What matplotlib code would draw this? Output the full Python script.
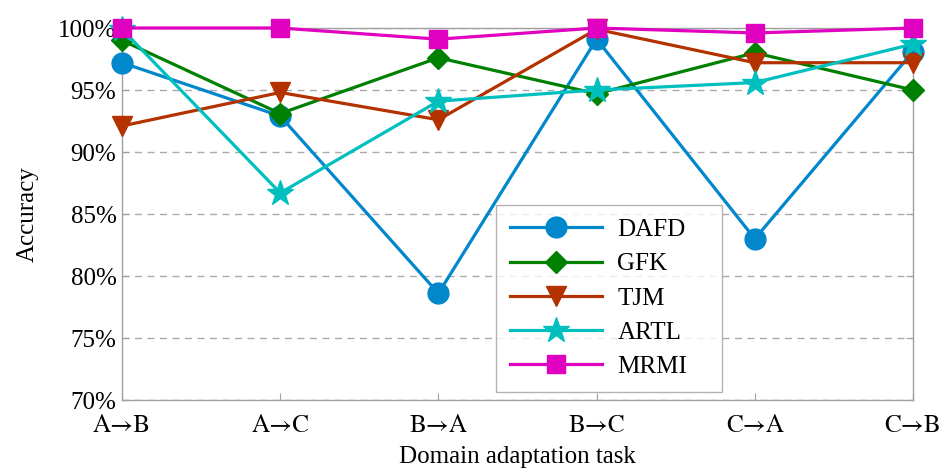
import matplotlib
matplotlib.use("Agg")
import matplotlib.pyplot as plt
from matplotlib.ticker import FuncFormatter

tasks = ["A→B", "A→C", "B→A", "B→C", "C→A", "C→B"]
dafd = [97.2, 92.9, 78.6, 99.1, 83.0, 98.1]
gfk = [99.0, 93.1, 97.6, 94.7, 98.0, 95.0]
tjm = [92.1, 94.8, 92.6, 99.9, 97.2, 97.2]
artl = [99.9, 86.7, 94.1, 95.0, 95.6, 98.7]
mrmi = [100.0, 100.0, 99.1, 100.0, 99.6, 100.0]
yticks = [70, 75, 80, 85, 90, 95, 100]

plt.rcParams['font.family'] = ['Liberation Serif', 'DejaVu Serif']

fig = plt.figure(figsize=(9.51, 4.69), dpi=100)
ax = fig.add_axes([122/951, 1-400/469, 791/951, 372/469])

x = list(range(len(tasks)))
series = [
    ("DAFD", dafd, "#0087cc", "o", 15),
    ("GFK", gfk, "#008000", "D", 11),
    ("TJM", tjm, "#b33200", "v", 15),
    ("ARTL", artl, "#00bfbf", "*", 19),
    ("MRMI", mrmi, "#e000c0", "s", 13),
]
for name, vals, col, mk, ms in series:
    ax.plot(x, vals, color=col, lw=2.3, marker=mk, markersize=ms,
            markeredgecolor=col, label=name, clip_on=False, zorder=3)

ax.set_xlim(0, 5)
ax.set_ylim(70, 100)
ax.set_xticks(x)
ax.set_xticklabels(tasks, family=['STIXGeneral', 'Liberation Serif'])
ax.set_yticks(yticks)
ax.yaxis.set_major_formatter(FuncFormatter(lambda v, p: f"{int(v)}%"))
ax.grid(axis='y', color='#aaaaaa', linestyle=(0, (5, 4)), lw=1.0)
for s in ax.spines.values():
    s.set_color('#a0a0a0')
    s.set_linewidth(1.0)
ax.tick_params(direction='in', length=5, color='#a0a0a0', labelsize=18,
               top=False, right=True)
ax.tick_params(axis='y', pad=4)
ax.tick_params(axis='x', pad=10)
ax.set_xlabel("Domain adaptation task", fontsize=18, labelpad=6)
ax.set_ylabel("Accuracy", fontsize=18, labelpad=14)

leg = ax.legend(loc='lower left', bbox_to_anchor=(0.473, 0.022, 0.286, 0.5),
                mode='expand', fontsize=18,
                frameon=True, fancybox=False, edgecolor='#a0a0a0',
                handlelength=3.7, handletextpad=0.6, labelspacing=0.47,
                borderpad=0.55, borderaxespad=0)
leg.get_frame().set_linewidth(1.0)
leg.set_zorder(5)

fig.savefig("out.png", dpi=100)
